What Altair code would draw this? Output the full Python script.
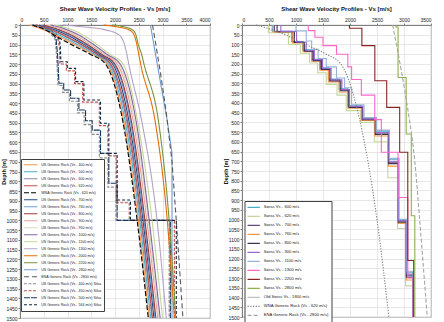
import altair as alt
import pandas as pd

FONT = "Liberation Sans"
TITLE = "Shear Wave Velocity Profiles - Vs [m/s]"
DEPTH_TICKS = list(range(0, 1501, 50))

# ---------------- left panel: generic rock profiles ----------------
curve_depth = [0, 10, 25, 50, 100, 150, 200, 500, 1000, 1500]

wna_620 = [260, 380, 540, 710, 1080, 1480, 1800, 2170, 2466, 2700]
us_400 = [200, 330, 500, 740, 1150, 1530, 1830, 2190, 2490, 2720]
us_500 = [260, 400, 570, 810, 1210, 1570, 1860, 2220, 2520, 2750]
us_600 = [320, 460, 640, 880, 1270, 1610, 1890, 2250, 2545, 2780]
us_620 = [340, 490, 670, 910, 1290, 1630, 1910, 2270, 2560, 2790]
us_700 = [400, 560, 740, 980, 1350, 1670, 1950, 2300, 2590, 2820]
us_760 = [450, 610, 790, 1030, 1390, 1700, 1980, 2330, 2610, 2840]
us_800 = [480, 650, 830, 1070, 1420, 1720, 2000, 2350, 2630, 2860]
us_900 = [560, 730, 920, 1150, 1480, 1770, 2050, 2390, 2670, 2900]
us_950 = [600, 780, 960, 1190, 1510, 1800, 2080, 2420, 2700, 2920]
us_1000 = [640, 820, 1000, 1230, 1550, 1830, 2110, 2450, 2720, 2950]
us_1100 = [720, 910, 1100, 1320, 1620, 1890, 2170, 2480, 2780, 3000]
us_1300 = [900, 1350, 1800, 2080, 2200, 2250, 2290, 2570, 2885, 3080]
us_2000 = [1760, 2050, 2300, 2400, 2460, 2500, 2540, 2850, 3100, 3250]
us_2200 = [1940, 2200, 2370, 2440, 2490, 2560, 2610, 2920, 3140, 3280]

us_2800_depth = [0, 486, 655, 1500]
us_2800 = [2745, 3097, 3200, 3200]

ena_depth = [0, 100, 250, 450, 700, 1000, 1500]
ena_2800 = [2790, 2860, 2960, 3080, 3200, 3290, 3430]

# Silva step profiles (depth m, Vs m/s)
silva_400_depth = [0, 15, 35, 60, 75, 160, 310, 310, 345, 345, 390, 390, 450, 450, 510, 510,
                   560, 560, 680, 680, 830, 830, 1000, 1000, 1500]
silva_400_vs = [240, 470, 610, 700, 740, 770, 800, 900, 900, 1040, 1040, 1210, 1210, 1350, 1350,
                1500, 1500, 1670, 1670, 1850, 1850, 2020, 2020, 3140, 3140]
silva_450_depth = [0, 20, 45, 75, 110, 200, 200, 235, 235, 300, 300, 395, 395, 515, 515, 670,
                   670, 910, 910, 1000, 1000, 1500]
silva_450_vs = [320, 570, 730, 800, 830, 840, 975, 975, 1150, 1150, 1320, 1320, 1670, 1670, 1850,
                1850, 2025, 2025, 2300, 2300, 3250, 3250]
silva_500_depth = [0, 15, 35, 60, 70, 150, 298, 298, 333, 333, 375, 375, 435, 435, 490, 490,
                   538, 538, 657, 657, 810, 810, 1000, 1000, 1500]
silva_500_vs = [280, 520, 650, 730, 760, 790, 820, 920, 920, 1065, 1065, 1240, 1240, 1380, 1380,
                1520, 1520, 1695, 1695, 1870, 1870, 2045, 2045, 3165, 3165]
silva_564_depth = [0, 20, 45, 75, 110, 188, 188, 222, 222, 290, 290, 384, 384, 503, 503, 657,
                   657, 896, 896, 1000, 1000, 1500]
silva_564_vs = [350, 600, 760, 830, 850, 860, 995, 995, 1170, 1170, 1345, 1345, 1695, 1695, 1870,
                1870, 2045, 2045, 2325, 2325, 3290, 3290]

# legend order, colours, dash patterns and widths of the left panel
left_series = [
    ("US Generic Rock (Vs - 400 m/s)", "#f79646", [1, 0], 1.1),
    ("US Generic Rock (Vs - 500 m/s)", "#4bacc6", [1, 0], 1.1),
    ("US Generic Rock (Vs - 600 m/s)", "#8c82a8", [1, 0], 1.1),
    ("US Generic Rock (Vs - 620 m/s)", "#c0504d", [1, 0], 1.1),
    ("WNA Generic Rock (Vs - 620 m/s)", "#000000", [5, 2], 1.8),
    ("US Generic Rock (Vs - 700 m/s)", "#1f497d", [1, 0], 1.1),
    ("US Generic Rock (Vs - 760 m/s)", "#6f9bd1", [1, 0], 1.1),
    ("US Generic Rock (Vs - 800 m/s)", "#953735", [1, 0], 1.1),
    ("US Generic Rock (Vs - 900 m/s)", "#e6a09c", [1, 0], 1.1),
    ("US Generic Rock (Vs - 950 m/s)", "#ddd9c3", [1, 0], 1.1),
    ("US Generic Rock (Vs - 1000 m/s)", "#8064a2", [1, 0], 1.4),
    ("US Generic Rock (Vs - 1100 m/s)", "#c3d69b", [1, 0], 1.1),
    ("US Generic Rock (Vs - 1300 m/s)", "#b3a2c7", [1, 0], 1.1),
    ("US Generic Rock (Vs - 2000 m/s)", "#e46c0a", [1, 0], 1.2),
    ("US Generic Rock (Vs - 2200 m/s)", "#77933c", [1, 0], 1.2),
    ("US Generic Rock (Vs - 2800 m/s)", "#6f9bd1", [1, 0], 1.1),
    ("ENA Generic Rock (Vs - 2800 m/s)", "#595959", [5, 3], 1.0),
    ("US Generic Rock (Vs - 400 m/s) Silva", "#8c8c8c", [3, 1.5], 1.3),
    ("US Generic Rock (Vs - 450 m/s) Silva", "#c0504d", [3, 1.5], 1.3),
    ("US Generic Rock (Vs - 500 m/s) Silva", "#17375e", [6, 1], 1.5),
    ("US Generic Rock (Vs - 564 m/s) Silva", "#0f243e", [3, 2], 1.4),
]

left_smooth = {
    "US Generic Rock (Vs - 400 m/s)": us_400,
    "US Generic Rock (Vs - 500 m/s)": us_500,
    "US Generic Rock (Vs - 600 m/s)": us_600,
    "US Generic Rock (Vs - 620 m/s)": us_620,
    "WNA Generic Rock (Vs - 620 m/s)": wna_620,
    "US Generic Rock (Vs - 700 m/s)": us_700,
    "US Generic Rock (Vs - 760 m/s)": us_760,
    "US Generic Rock (Vs - 800 m/s)": us_800,
    "US Generic Rock (Vs - 900 m/s)": us_900,
    "US Generic Rock (Vs - 950 m/s)": us_950,
    "US Generic Rock (Vs - 1000 m/s)": us_1000,
    "US Generic Rock (Vs - 1100 m/s)": us_1100,
    "US Generic Rock (Vs - 1300 m/s)": us_1300,
    "US Generic Rock (Vs - 2000 m/s)": us_2000,
    "US Generic Rock (Vs - 2200 m/s)": us_2200,
}
left_polyline = {
    "US Generic Rock (Vs - 2800 m/s)": (us_2800_depth, us_2800),
    "ENA Generic Rock (Vs - 2800 m/s)": (ena_depth, ena_2800),
    "US Generic Rock (Vs - 400 m/s) Silva": (silva_400_depth, silva_400_vs),
    "US Generic Rock (Vs - 450 m/s) Silva": (silva_450_depth, silva_450_vs),
    "US Generic Rock (Vs - 500 m/s) Silva": (silva_500_depth, silva_500_vs),
    "US Generic Rock (Vs - 564 m/s) Silva": (silva_564_depth, silva_564_vs),
}

# ---------------- right panel: Swiss reference profiles ----------------
# layer tops (m) and layer velocities (m/s)
swiss_600_top = [0, 32, 85, 128, 176, 220, 278, 328, 415, 478, 545, 690, 1000, 1270]
swiss_600_vs = [560, 920, 1120, 1290, 1440, 1600, 1800, 1960, 2220, 2460, 2710, 2890, 3040, 3160]
swiss_620_top = [0, 40, 100, 145, 195, 245, 305, 360, 440, 500, 600, 785, 1045, 1340]
swiss_620_vs = [490, 860, 1080, 1250, 1400, 1560, 1760, 1930, 2200, 2450, 2700, 2880, 3030, 3160]
swiss_700_top = [0, 34, 88, 132, 180, 225, 284, 334, 420, 484, 555, 705, 1008, 1285]
swiss_700_vs = [600, 940, 1140, 1300, 1450, 1610, 1810, 1970, 2220, 2460, 2710, 2890, 3040, 3160]
swiss_760_top = [0, 36, 92, 137, 186, 232, 292, 344, 428, 490, 570, 725, 1020, 1310]
swiss_760_vs = [580, 930, 1130, 1290, 1440, 1600, 1800, 1960, 2210, 2460, 2705, 2885, 3040, 3160]
swiss_800_top = [0, 35, 90, 135, 183, 228, 288, 338, 424, 487, 562, 712, 1013, 1295]
swiss_800_vs = [650, 970, 1160, 1320, 1470, 1630, 1830, 1980, 2230, 2470, 2715, 2895, 3045, 3165]
swiss_900_top = [0, 33, 87, 131, 178, 223, 282, 332, 418, 482, 552, 700, 1005, 1280]
swiss_900_vs = [720, 1010, 1190, 1340, 1490, 1650, 1850, 1990, 2240, 2475, 2720, 2900, 3050, 3165]
swiss_1100_top = [0, 30, 82, 125, 172, 215, 272, 322, 410, 475, 540, 685, 998, 1265]
swiss_1100_vs = [1000, 1190, 1290, 1410, 1560, 1750, 1900, 2030, 2260, 2490, 2730, 2910, 3055, 3170]
swiss_1300_top = [0, 29, 63, 106, 150, 215, 280, 360, 486, 654, 886, 1300]
swiss_1300_vs = [1227, 1350, 1500, 1750, 1960, 2030, 2210, 2458, 2580, 2890, 3070, 3170]
swiss_2200_top = [0, 17, 106, 286, 423, 654, 1210]
swiss_2200_vs = [1990, 2220, 2460, 2680, 2920, 3070, 3180]
swiss_2800_top = [0, 10, 270, 560, 980]
swiss_2800_vs = [2850, 2890, 3040, 3135, 3200]

wna_right = [260, 390, 560, 800, 1180, 1560, 1830, 2190, 2500, 2720]

right_series = [
    ("Swiss Vs - 600 m/s", "#4bacc6", [1, 0], 1.1),
    ("Swiss Vs - 620 m/s", "#c3d69b", [1, 0], 1.1),
    ("Swiss Vs - 700 m/s", "#604a7b", [1, 0], 1.1),
    ("Swiss Vs - 760 m/s", "#f79646", [1, 0], 1.1),
    ("Swiss Vs - 800 m/s", "#3f3151", [1, 0], 1.1),
    ("Swiss Vs - 900 m/s", "#9966cc", [1, 0], 1.1),
    ("Swiss Vs - 1100 m/s", "#93b3d7", [1, 0], 1.1),
    ("Swiss Vs - 1300 m/s", "#ff66cc", [1, 0], 1.1),
    ("Swiss Vs - 2200 m/s", "#8b2323", [1, 0], 1.2),
    ("Swiss Vs - 2800 m/s", "#8db04a", [1, 0], 1.2),
    ("Old Swiss Vs - 1800 m/s", "#bfbfbf", [1, 0], 1.1),
    ("WNA Generic Rock (Vs - 620 m/s)", "#7f7f7f", [1.2, 1.5], 0.9),
    ("ENA Generic Rock (Vs - 2800 m/s)", "#a6a6a6", [4, 2], 0.9),
]

right_steps = {
    "Swiss Vs - 600 m/s": (swiss_600_top, swiss_600_vs),
    "Swiss Vs - 620 m/s": (swiss_620_top, swiss_620_vs),
    "Swiss Vs - 700 m/s": (swiss_700_top, swiss_700_vs),
    "Swiss Vs - 760 m/s": (swiss_760_top, swiss_760_vs),
    "Swiss Vs - 800 m/s": (swiss_800_top, swiss_800_vs),
    "Swiss Vs - 900 m/s": (swiss_900_top, swiss_900_vs),
    "Swiss Vs - 1100 m/s": (swiss_1100_top, swiss_1100_vs),
    "Swiss Vs - 1300 m/s": (swiss_1300_top, swiss_1300_vs),
    "Swiss Vs - 2200 m/s": (swiss_2200_top, swiss_2200_vs),
    "Swiss Vs - 2800 m/s": (swiss_2800_top, swiss_2800_vs),
}


def staircase(tops, vels, bottom=1500):
    depth, vs = [], []
    for i, (top, v) in enumerate(zip(tops, vels)):
        nxt = tops[i + 1] if i + 1 < len(tops) else bottom
        depth += [top, nxt]
        vs += [v, v]
    return depth, vs


def rows(name, kind, depths, values):
    return [{"series": name, "kind": kind, "idx": i, "depth": d, "vs": v}
            for i, (d, v) in enumerate(zip(depths, values))]


left_rows = []
for name, vals in left_smooth.items():
    left_rows += rows(name, "curve", curve_depth, vals)
for name, (d, v) in left_polyline.items():
    left_rows += rows(name, "poly", d, v)
df_left = pd.DataFrame(left_rows)

right_rows = []
for name, (tops, vels) in right_steps.items():
    d, v = staircase(tops, vels)
    right_rows += rows(name, "poly", d, v)
right_rows += rows("WNA Generic Rock (Vs - 620 m/s)", "curve", curve_depth, wna_right)
right_rows += rows("ENA Generic Rock (Vs - 2800 m/s)", "curve", ena_depth, ena_2800)
df_right = pd.DataFrame(right_rows)


def panel(df, series, x_max, width, height, legend_x, legend_y, label_size, row_h, sym_size):
    names = [s[0] for s in series]
    legend = alt.Legend(
        orient="none", legendX=legend_x, legendY=legend_y, title=None, direction="vertical",
        symbolType="stroke", symbolSize=sym_size, symbolStrokeWidth=1.2,
        labelFont=FONT, labelFontSize=label_size, labelColor="#222222", labelLimit=0,
        clipHeight=row_h, rowPadding=0, padding=2.2, strokeColor="#404040",
        fillColor="white", labelOffset=3,
    )
    enc = dict(
        x=alt.X("vs:Q", scale=alt.Scale(domain=[0, x_max], nice=False),
                axis=alt.Axis(orient="top", values=list(range(0, x_max + 1, 500)),
                              format="d", title=None)),
        y=alt.Y("depth:Q", scale=alt.Scale(domain=[0, 1500], reverse=True, nice=False),
                axis=alt.Axis(values=DEPTH_TICKS, format="d", title="Depth [m]")),
        color=alt.Color("series:N", scale=alt.Scale(domain=names, range=[s[1] for s in series]),
                        legend=legend),
        strokeDash=alt.StrokeDash("series:N",
                                  scale=alt.Scale(domain=names, range=[s[2] for s in series]),
                                  legend=legend),
        strokeWidth=alt.StrokeWidth("series:N",
                                    scale=alt.Scale(domain=names, range=[s[3] for s in series]),
                                    legend=None),
        order=alt.Order("idx:Q"),
    )
    base = alt.Chart(df)
    poly = base.transform_filter(alt.datum.kind == "poly").mark_line().encode(**enc)
    smooth = base.transform_filter(alt.datum.kind == "curve").mark_line(
        interpolate="monotone").encode(**enc)
    return alt.layer(poly, smooth).properties(width=width, height=height, title=TITLE)


left = panel(df_left, left_series, 4000, 190, 293, 1, 134, 3.6, 7.0, 180)
right = panel(df_right, right_series, 3500, 189, 292, 2.5, 176, 4.2, 8.3, 150)

chart = (
    alt.hconcat(left, right, spacing=12)
    .resolve_scale(color="independent", strokeDash="independent", strokeWidth="independent",
                   x="independent", y="independent")
    .properties(padding={"left": 1, "top": 5, "right": 0, "bottom": 0}, background="white")
    .configure_view(stroke="#7f7f7f", strokeWidth=0.8)
    .configure_axis(labelFont=FONT, labelFontSize=5, labelColor="#222222",
                    titleFont=FONT, titleFontSize=5.5, titleFontWeight="bold", titleColor="#111111",
                    gridColor="#d9d9d9", gridWidth=0.6, domainColor="#7f7f7f",
                    tickColor="#7f7f7f", tickSize=2, labelPadding=1, titlePadding=-1)
    .configure_title(font=FONT, fontSize=6, fontWeight="bold", color="#111111", offset=5)
)

chart.save("out.html", embed_options={"renderer": "svg", "actions": False})
